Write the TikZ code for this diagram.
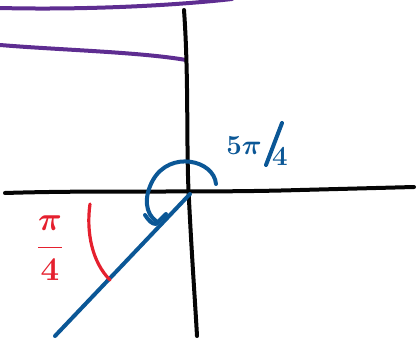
\documentclass[tikz,border=0pt]{standalone}
\usepackage{xcolor}
\usepackage{tikz}
\usetikzlibrary{arrows.meta}
\definecolor{inkBlack}{HTML}{050505}
\definecolor{inkPurple}{HTML}{5E2D91}
\definecolor{inkBlue}{HTML}{0B5796}
\definecolor{inkRed}{HTML}{E5202E}

\begin{document}
\begin{tikzpicture}[
  x=0.75pt, y=-0.75pt,
  stroke/.style={line width=3pt, line cap=round, line join=round},
  axis/.style={stroke, inkBlack},
  band/.style={stroke, inkPurple},
  turn/.style={stroke, inkBlue},
  mark angle/.style={stroke, inkRed, line width=2.4pt},
  lbl/.style={font=\fontsize{22}{24}\selectfont\boldmath, inner sep=0pt}
]
  \useasboundingbox (0,0) rectangle (418,339);

  % purple strokes at the top
  \draw[band] (0,8) .. controls (80,10) and (170,6) .. (232,-1);
  \draw[band] (0,45) .. controls (60,50) and (140,52) .. (186,60);

  % axes
  \draw[axis] (184,10) .. controls (189,80) and (186,150) .. (189,200)
    .. controls (192,260) and (195,300) .. (197,336);
  \draw[axis] (5,193) .. controls (100,190) and (200,193) .. (300,190) -- (414,187);

  % terminal side and the turn of 5pi/4
  \draw[turn] (190,194) -- (55,336);
  \draw[turn] (216,184) .. controls (214,160) and (170,150) .. (153,180)
    .. controls (143,198) and (146,214) .. (156,221);
  \draw[turn] (145,215) .. controls (149,221) and (152,224) .. (156,224) -- (166,214);

  \node[lbl, text=inkBlue] (num5pi) at (244,146) {$5\pi$};
  \draw[turn] (282,123) -- (266,165);
  \node[lbl, text=inkBlue] (den4) at (280,157) {$4$};

  % reference angle pi/4
  \draw[mark angle] (90,204) .. controls (86,232) and (92,262) .. (110,280);
  \node[lbl, text=inkRed, font=\fontsize{27}{30}\selectfont\boldmath] (refang) at (50,248) {$\displaystyle\frac{\pi}{4}$};
\end{tikzpicture}
\end{document}
